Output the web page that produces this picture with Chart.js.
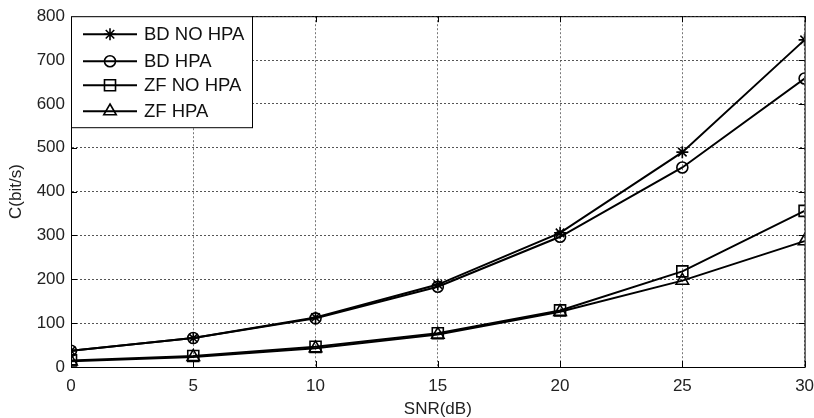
<!DOCTYPE html>
<html>
<head>
<meta charset="utf-8">
<script src="https://cdn.jsdelivr.net/npm/chart.js@4/dist/chart.umd.min.js"></script>
<style>
    html, body { margin: 0; padding: 0; background: #fff; }
    #wrap { width: 814px; height: 418px; }
</style>
</head>
<body>
<div id="wrap"><canvas id="capChart" width="814" height="418"></canvas></div>
<script>
const snr = [0, 5, 10, 15, 20, 25, 30];
const bdNoHpa = [37, 66, 113, 188, 306, 490, 746];
const bdHpa = [37, 66, 111, 183, 297, 455, 658];
const zfNoHpa = [15, 25, 46, 77, 129, 218, 356];
const zfHpa = [13, 23, 43, 74, 126, 197, 287];
const xTicks = [0, 5, 10, 15, 20, 25, 30];
const yTicks = [0, 100, 200, 300, 400, 500, 600, 700, 800];

const fontFamily = "'Liberation Sans', Arial, sans-serif";

function toPoints(values) {
    return snr.map((x, i) => ({ x: x, y: values[i] }));
}

function series(label, values, style, radius) {
    return {
        label: label,
        data: toPoints(values),
        borderColor: "#000",
        borderWidth: 2,
        pointStyle: style,
        pointRadius: radius,
        pointBorderWidth: 1.6,
        pointBorderColor: "#000",
        pointBackgroundColor: "rgba(0,0,0,0)",
        tension: 0,
    };
}

// box round the plot area, inward ticks, and the MATLAB style legend top-left
const boxAndLegend = {
    id: "boxAndLegend",
    afterDatasetsDraw(chart) {
        const ctx = chart.ctx;
        const a = chart.chartArea;
        const xs = chart.scales.x, ys = chart.scales.y;
        ctx.save();
        ctx.setLineDash([]);
        ctx.strokeStyle = "#000";
        ctx.lineWidth = 1;
        ctx.strokeRect(a.left + 0.5, a.top + 0.5, a.right - a.left, a.bottom - a.top);

        const t = 6;
        ctx.beginPath();
        xTicks.forEach((v) => {
            const px = Math.round(xs.getPixelForValue(v)) + 0.5;
            ctx.moveTo(px, a.bottom); ctx.lineTo(px, a.bottom - t);
            ctx.moveTo(px, a.top); ctx.lineTo(px, a.top + t);
        });
        yTicks.forEach((v) => {
            const py = Math.round(ys.getPixelForValue(v)) + 0.5;
            ctx.moveTo(a.left, py); ctx.lineTo(a.left + t, py);
            ctx.moveTo(a.right, py); ctx.lineTo(a.right - t, py);
        });
        ctx.stroke();

        const lx = a.left, ly = a.top, lw = 181, lh = 111;
        ctx.fillStyle = "#fff";
        ctx.fillRect(lx, ly, lw, lh);
        ctx.strokeRect(lx + 0.5, ly + 0.5, lw, lh);

        const rows = [18, 45, 69, 95];
        chart.data.datasets.forEach((ds, i) => {
            const y = ly + rows[i];
            ctx.strokeStyle = "#000";
            ctx.lineWidth = 2;
            ctx.beginPath();
            ctx.moveTo(lx + 12, y);
            ctx.lineTo(lx + 66, y);
            ctx.stroke();
            ctx.lineWidth = 1.6;
            ctx.fillStyle = "rgba(0,0,0,0)";
            Chart.helpers.drawPoint(ctx, {
                pointStyle: ds.pointStyle,
                radius: ds.pointRadius,
                rotation: 0,
                borderWidth: 1.6,
            }, lx + 39, y);
            ctx.fillStyle = "#111";
            ctx.font = "18.5px " + fontFamily;
            ctx.textBaseline = "middle";
            ctx.textAlign = "left";
            ctx.fillText(ds.label, lx + 73, y + 1);
        });
        ctx.restore();
    },
};

const capCtx = document.getElementById("capChart").getContext("2d");
new Chart(capCtx, {
    type: "line",
    data: {
        datasets: [
            series("BD NO HPA", bdNoHpa, "star", 6),
            series("BD HPA", bdHpa, "circle", 5.5),
            series("ZF NO HPA", zfNoHpa, "rect", 7.8),
            series("ZF HPA", zfHpa, "triangle", 7.2),
        ],
    },
    options: {
        responsive: false,
        animation: false,
        layout: { padding: { top: 13, right: 9, left: 0, bottom: 0 } },
        plugins: {
            legend: { display: false },
            tooltip: { enabled: false },
        },
        scales: {
            x: {
                type: "linear",
                min: 0,
                max: 30,
                afterBuildTicks: (axis) => { axis.ticks = xTicks.map((v) => ({ value: v })); },
                afterFit: (axis) => {
                    axis.height = 51;
                    axis.paddingLeft = 0;
                    axis.paddingRight = 0;
                },
                grid: {
                    color: "#777",
                    lineWidth: 1,
                    drawTicks: false,
                },
                border: { display: true, color: "#000", width: 1, dash: [2, 2] },
                ticks: {
                    padding: 9,
                    color: "#222",
                    font: { family: fontFamily, size: 17 },
                    maxRotation: 0,
                },
                title: {
                    display: true,
                    text: "SNR(dB)",
                    color: "#222",
                    font: { family: fontFamily, size: 17, lineHeight: 1 },
                    padding: { top: 0, bottom: 0 },
                },
            },
            y: {
                min: 0,
                max: 800,
                afterBuildTicks: (axis) => { axis.ticks = yTicks.map((v) => ({ value: v })); },
                afterFit: (axis) => { axis.width = 71; },
                grid: {
                    color: "#555",
                    lineWidth: 1,
                    drawTicks: false,
                },
                border: { display: true, color: "#000", width: 1, dash: [2, 2] },
                ticks: {
                    padding: 6,
                    color: "#222",
                    font: { family: fontFamily, size: 17 },
                },
                title: {
                    display: true,
                    text: "C(bit/s)",
                    color: "#222",
                    font: { family: fontFamily, size: 17 },
                    padding: { top: 6, bottom: 0 },
                },
            },
        },
    },
    plugins: [boxAndLegend],
});
</script>
</body>
</html>
